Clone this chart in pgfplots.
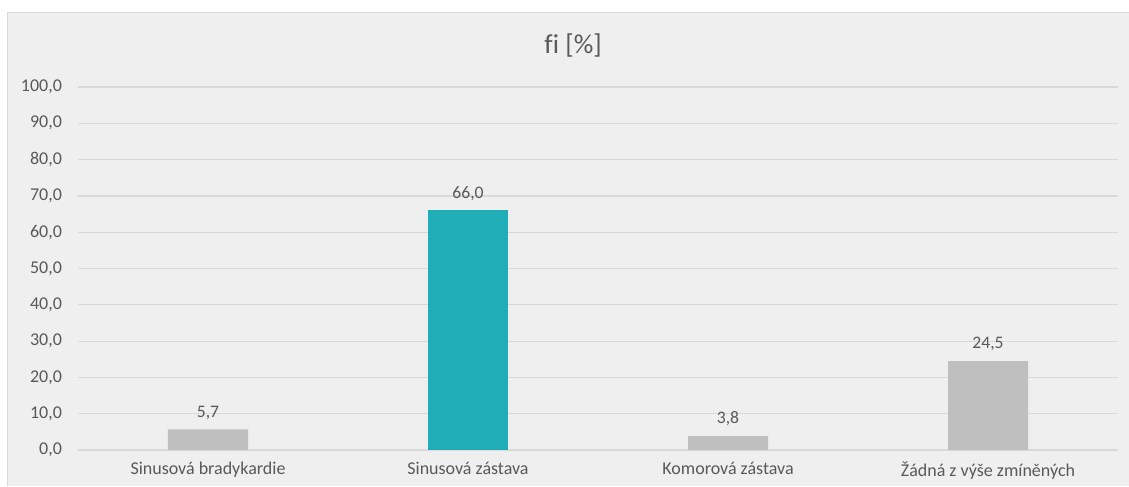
\documentclass[border=0pt]{standalone}
\usepackage{pgfplots}
\pgfplotsset{compat=1.18}
\usepackage{fontspec}
\setmainfont{Carlito}
\definecolor{bgc}{HTML}{EFEFEF}
\definecolor{framec}{HTML}{D9D9D9}
\definecolor{gridc}{HTML}{D9D9D9}
\definecolor{txt}{HTML}{595959}
\definecolor{barg}{HTML}{BFBFBF}
\definecolor{teal}{HTML}{1FAEB8}
\begin{document}
\begin{tikzpicture}[x=0.75pt,y=0.75pt]
\begin{scope}[shift={(-78,-36)}]
\useasboundingbox (0,0) rectangle (1129,486);
\fill[white] (0,0) rectangle (1129,486);
\fill[bgc] (8,0) rectangle (1129,473);
\draw[framec, line width=0.75pt] (8,0) -- (8,473) -- (1129,473);
\node[txt, font=\fontsize{20.5}{24}\selectfont] at (573,441) {f\kern0.3pt i [\%]};
\end{scope}
\begin{axis}[
  anchor=south west,
  scale only axis, width=780pt, height=272.25pt,
  xmin=-0.5, xmax=3.5, ymin=0, ymax=100,
  ytick={0,10,...,100},
  xtick={0,1,2,3},
  xticklabels={Sinusová bradykardie, Sinusová zástava, Komorová zástava, Žádná z výše zmíněných},
  axis line style={draw=none},
  major tick length=0pt,
  ymajorgrids, grid style={gridc, line width=0.9pt},
  ticklabel style={txt, font=\fontsize{13.5}{16}\selectfont},
  yticklabel style={xshift=-8.5pt},
  xticklabel style={yshift=-5.5pt},
  /pgf/number format/.cd, fixed, fixed zerofill, precision=1, use comma, assume math mode=true,
  /pgfplots/.cd,
  ybar, bar width=60pt,
  nodes near coords,
  every node near coord/.append style={txt, font=\fontsize{13.2}{16}\selectfont, yshift=4pt,
    /pgf/number format/.cd, fixed, fixed zerofill, precision=1, use comma, assume math mode=true},
  clip=false,
]
\addplot[fill=barg, draw=none, bar shift=0pt] coordinates {(0,5.7) (2,3.8) (3,24.5)};
\addplot[fill=teal, draw=none, bar shift=0pt] coordinates {(1,66.0)};
\end{axis}
\end{tikzpicture}
\end{document}
